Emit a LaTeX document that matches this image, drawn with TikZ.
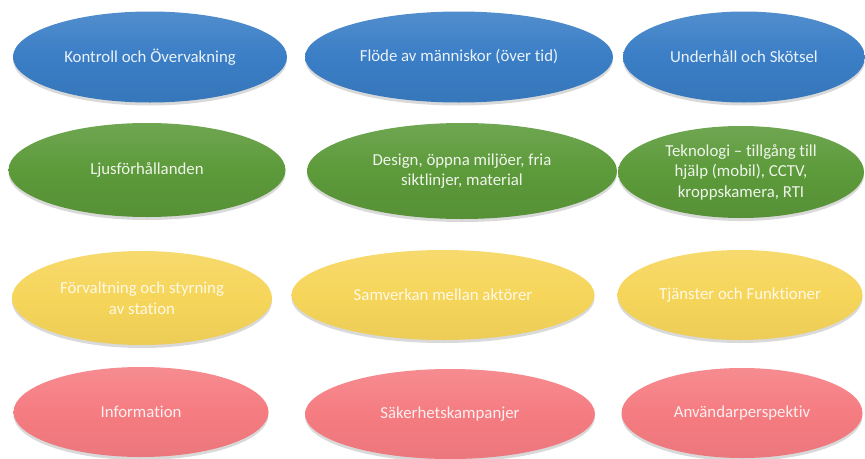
\documentclass[tikz,border=0pt]{standalone}
\usepackage{fontspec}
\setmainfont[Ligatures=NoCommon]{Carlito}
\usetikzlibrary{shapes.geometric,shadows}
\definecolor{kblue}{HTML}{3A7EC6}
\definecolor{kgreen}{HTML}{5C9A3A}
\definecolor{kyellow}{HTML}{F6D55A}
\definecolor{kpink}{HTML}{F57C81}
\tikzset{
	oval/.style={ellipse,inner sep=0pt,align=center,
		font=\fontsize{16.8}{20.5}\selectfont,
		drop shadow={opacity=0.3,shadow xshift=0pt,shadow yshift=-3pt}},
	blueoval/.style={oval,top color=kblue!88!white,bottom color=kblue!94!black,middle color=kblue,text=white!90!kblue},
	greenoval/.style={oval,top color=kgreen!88!white,bottom color=kgreen!94!black,middle color=kgreen,text=white!90!kgreen},
	yellowoval/.style={oval,top color=kyellow!88!white,bottom color=kyellow!96!black,middle color=kyellow,text=white!85!kyellow},
	pinkoval/.style={oval,top color=kpink!88!white,bottom color=kpink!96!black,middle color=kpink,text=white!88!kpink}
}
\begin{document}
\begin{tikzpicture}[x=1pt,y=-1pt]
	\useasboundingbox (0,0) rectangle (865,458);
	% rad 1
	\node[blueoval,minimum width=274,minimum height=91] (kontroll) at (150,57) {Kontroll och Övervakning};
	\node[blueoval,minimum width=308,minimum height=91] (flode) at (459,57) {Flöde av människor (över tid)};
	\node[blueoval,minimum width=242,minimum height=91] (underhall) at (744,57) {Underhåll och Skötsel};
	% rad 2
	\node[greenoval,minimum width=277,minimum height=94] (ljus) at (147,170) {Ljusförhållanden};
	\node[greenoval,minimum width=310,minimum height=96] (design) at (462,171) {Design, öppna miljöer, fria\\siktlinjer, material};
	\node[greenoval,minimum width=246,minimum height=92] (teknologi) at (741,172) {Teknologi -- tillgång till\\hjälp (mobil), CCTV,\\kroppskamera, RTI};
	% rad 3
	\node[yellowoval,minimum width=260,minimum height=94] (forvaltning) at (142,298) {Förvaltning och styrning\\av station};
	\node[yellowoval,minimum width=303,minimum height=90] (samverkan) at (443,295) {Samverkan mellan aktörer};
	\node[yellowoval,minimum width=245,minimum height=90] (tjanster) at (740,295) {Tjänster och Funktioner};
	% rad 4
	\node[pinkoval,minimum width=255,minimum height=90] (information) at (141,412) {Information};
	\node[pinkoval,minimum width=290,minimum height=90] (kampanjer) at (450,414) {Säkerhetskampanjer};
	\node[pinkoval,minimum width=241,minimum height=90] (perspektiv) at (742,413) {Användarperspektiv};
\end{tikzpicture}
\end{document}
